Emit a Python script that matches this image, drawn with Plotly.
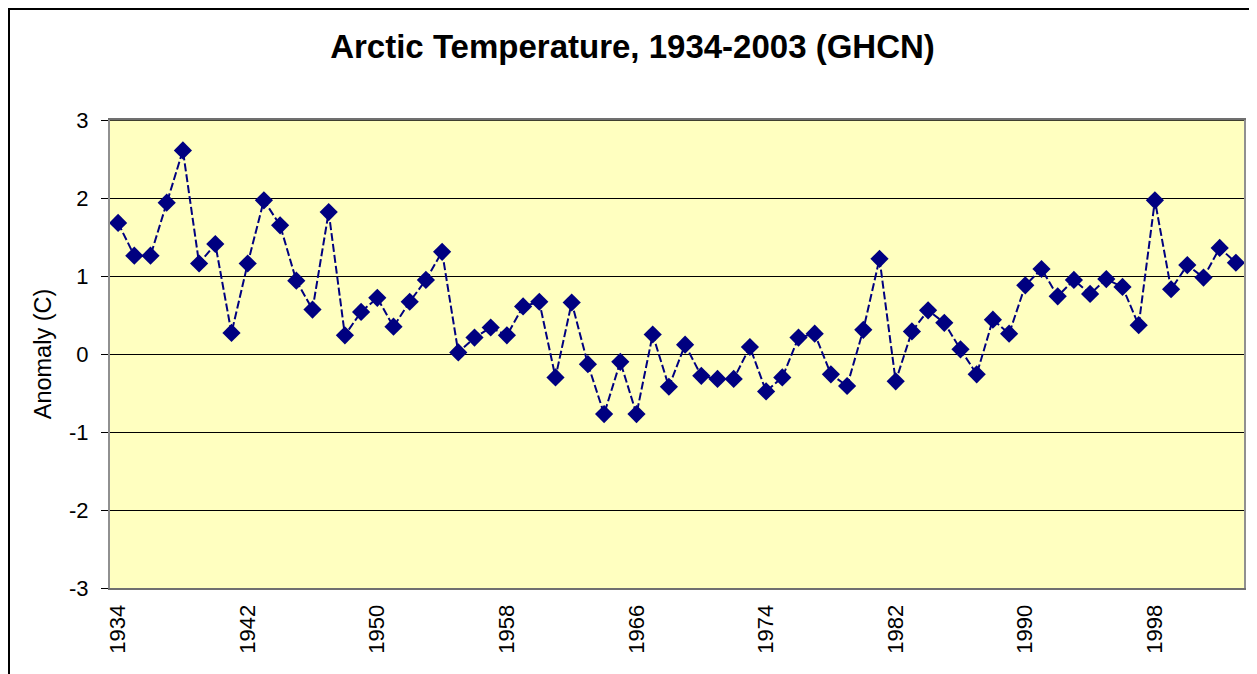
import plotly.graph_objects as go

# Arctic temperature anomaly (C), GHCN, one value per year
years = list(range(1934, 2004))
anomaly = [
    1.68, 1.26, 1.26, 1.94, 2.61, 1.16, 1.41, 0.27, 1.16, 1.97,
    1.65, 0.94, 0.57, 1.82, 0.24, 0.54, 0.72, 0.35, 0.67, 0.95,
    1.31, 0.02, 0.21, 0.34, 0.24, 0.61, 0.67, -0.30, 0.66, -0.13,
    -0.77, -0.10, -0.77, 0.25, -0.42, 0.12, -0.28, -0.32, -0.32, 0.09,
    -0.48, -0.30, 0.21, 0.26, -0.26, -0.41, 0.31, 1.22, -0.35, 0.29,
    0.56, 0.40, 0.06, -0.26, 0.44, 0.26, 0.88, 1.09, 0.74, 0.95,
    0.77, 0.96, 0.86, 0.37, 1.97, 0.83, 1.14, 0.98, 1.36, 1.17,
]
year_ticks = [1934, 1942, 1950, 1958, 1966, 1974, 1982, 1990, 1998]
y_ticks = [-3, -2, -1, 0, 1, 2, 3]

NAVY = "#000080"

# page body adds an 8px offset, so the figure is drawn 8px smaller
W, H = 1249, 666
L, T, R, B = 102, 112, 13, 86
PW, PH = W - L - R, H - T - B

fig = go.Figure(go.Scatter(
    x=years, y=anomaly,
    mode="lines+markers",
    line=dict(color=NAVY, width=2, dash="8px,3px"),
    marker=dict(symbol="diamond", size=14, color=NAVY),
    showlegend=False,
))

fig.update_layout(
    width=W, height=H,
    margin=dict(l=L, r=R, t=T, b=B),
    paper_bgcolor="white",
    plot_bgcolor="#FFFFC0",
    font=dict(family="Arial, Liberation Sans, sans-serif", color="black"),
    title=dict(
        text="<b>Arctic Temperature, 1934-2003 (GHCN)</b>",
        x=0.5, xanchor="center", xref="container",
        y=1 - 38 / H, yanchor="middle", yref="container",
        font=dict(size=33, color="black"),
    ),
    shapes=[
        # outer chart-area frame
        dict(type="rect", xref="paper", yref="paper",
             x0=(1 - L) / PW, x1=(1246.5 - L) / PW,
             y0=-0.3, y1=(T + PH - 1) / PH,
             line=dict(color="black", width=2), layer="below"),
        # black top edge of plot area
        dict(type="line", xref="paper", yref="y",
             x0=0, x1=1, y0=3, y1=3,
             line=dict(color="black", width=1.5)),
    ],
)

fig.update_xaxes(
    range=[1933.5, 2003.5],
    tickvals=year_ticks,
    ticktext=[str(y) for y in year_ticks],
    tickangle=-90,
    tickfont=dict(size=22),
    ticks="",
    ticklabelstandoff=6,
    showgrid=False, zeroline=False,
    showline=True, mirror=True, linecolor="#707070", linewidth=2,
)
fig.update_yaxes(
    range=[-3, 3],
    tickvals=y_ticks,
    ticktext=[str(v) for v in y_ticks],
    tickfont=dict(size=22),
    ticks="outside", ticklen=7, tickcolor="black",
    ticklabelstandoff=8,
    showgrid=True, gridcolor="black", gridwidth=1,
    zeroline=True, zerolinecolor="black", zerolinewidth=1,
    showline=True, mirror=True, linecolor="#909090", linewidth=2,
    title=dict(text="Anomaly (C)", font=dict(size=23.5), standoff=11),
)

fig.write_html("out.html")
